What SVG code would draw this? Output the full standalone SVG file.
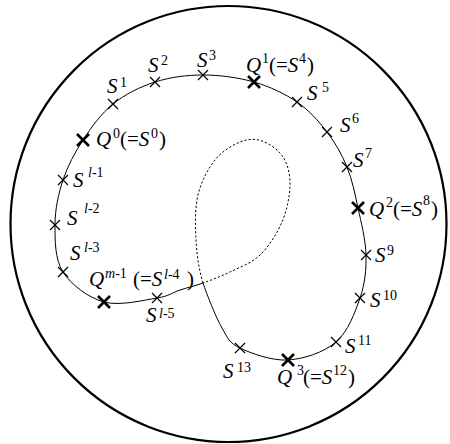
<svg xmlns="http://www.w3.org/2000/svg" xmlns:xlink="http://www.w3.org/1999/xlink" width="450" height="444" viewBox="0 0 450 444">
<style>
.bg{fill:#fff}
.outer{fill:none;stroke:#000;stroke-width:2.2}
.curve{fill:none;stroke:#000;stroke-width:1}
.dot{fill:none;stroke:#000;stroke-width:1;stroke-dasharray:2.2 2}
.x{stroke:#000;stroke-width:1.2;fill:none}
.xb{stroke:#000;stroke-width:2.6;fill:none}
text{font-family:"Liberation Serif","Times New Roman",serif;font-size:21px;fill:#000}
.m{font-style:italic}
.s{font-size:14px;font-style:normal}
.si{font-size:14px;font-style:italic}
</style>
<defs>
<path id="cx" class="x" d="M-5,-5L5,5M5,-5L-5,5"/>
<path id="cxb" class="xb" d="M-6,-6L6,6M6,-6L-6,6"/>
</defs>
<rect class="bg" width="450" height="444"/>
<circle class="outer" cx="228.5" cy="224" r="218"/>
<g id="connectors">
<path class="curve" d="M203,283 C194.7,286 187.7,287.5 180,290 C172.3,292.5 169.7,296 157,298 C144.3,300 119.7,306.3 104,302 C88.3,297.7 71.2,284.8 63,272 C54.8,259.2 55,240.3 55,225 C55,209.7 58.3,194.2 63,180 C67.7,165.8 74.7,152.7 83,140 C91.3,127.3 101,113.7 113,104 C125,94.3 140,86.8 155,82 C170,77.2 186.5,75 203,75 C219.5,75 238.3,77.5 254,82 C269.7,86.5 284.8,93.7 297,102 C309.2,110.3 318.7,121.2 327,132 C335.3,142.8 341.8,154.3 347,167 C352.2,179.7 354.8,193.3 358,208 C361.2,222.7 365.7,240 366,255 C366.3,270 365,283.5 360,298 C355,312.5 348,331.7 336,342 C324,352.3 304,359 288,360 C272,361 251,353.3 240,348 C229,342.7 228.2,338.8 222,328 C215.8,317.2 206.8,294.3 203,283"/>
<path class="dot" d="M203,283 C198.7,268.3 196.8,254.7 196,240 C195.2,225.3 194.8,208.3 198,195 C201.2,181.7 208,168.8 215,160 C222,151.2 232.2,145.2 240,142 C247.8,138.8 254.8,138.5 262,141 C269.2,143.5 278.3,149.7 283,157 C287.7,164.3 290.2,174.2 290,185 C289.8,195.8 287,210.3 282,222 C277,233.7 268.7,246.7 260,255 C251.3,263.3 239.5,267.3 230,272 C220.5,276.7 211.3,280 203,283"/>
</g>
<g id="Q0"><use xlink:href="#cxb" x="83" y="140"/><text><tspan class="m" x="96" y="146">Q</tspan><tspan class="s" x="113" y="138">0</tspan><tspan x="120" y="146">(=</tspan><tspan class="m">S</tspan><tspan class="s" x="151" y="138">0</tspan><tspan x="159" y="146">)</tspan></text></g>
<g id="S1"><use xlink:href="#cx" x="113" y="104"/><text><tspan class="m" x="107" y="93">S</tspan><tspan class="s" x="120" y="87">1</tspan></text></g>
<g id="S2"><use xlink:href="#cx" x="155" y="82"/><text><tspan class="m" x="148" y="72">S</tspan><tspan class="s" x="161" y="65">2</tspan></text></g>
<g id="S3"><use xlink:href="#cx" x="203" y="75"/><text><tspan class="m" x="197" y="67">S</tspan><tspan class="s" x="209" y="60">3</tspan></text></g>
<g id="Q1"><use xlink:href="#cxb" x="254" y="82"/><text><tspan class="m" x="246" y="72">Q</tspan><tspan class="s" x="262" y="63">1</tspan><tspan x="269" y="72">(=</tspan><tspan class="m">S</tspan><tspan class="s" x="299" y="63">4</tspan><tspan x="307" y="72">)</tspan></text></g>
<g id="S5"><use xlink:href="#cx" x="297" y="102"/><text><tspan class="m" x="307" y="100">S</tspan><tspan class="s" x="322" y="92">5</tspan></text></g>
<g id="S6"><use xlink:href="#cx" x="327" y="132"/><text><tspan class="m" x="340" y="132">S</tspan><tspan class="s" x="352" y="123">6</tspan></text></g>
<g id="S7"><use xlink:href="#cx" x="347" y="167"/><text><tspan class="m" x="353" y="167">S</tspan><tspan class="s" x="365" y="158">7</tspan></text></g>
<g id="Q2"><use xlink:href="#cxb" x="358" y="208"/><text><tspan class="m" x="369" y="216">Q</tspan><tspan class="s" x="386" y="207">2</tspan><tspan x="393" y="216">(=</tspan><tspan class="m">S</tspan><tspan class="s" x="423" y="205">8</tspan><tspan x="431" y="216">)</tspan></text></g>
<g id="S9"><use xlink:href="#cx" x="366" y="255"/><text><tspan class="m" x="375" y="262">S</tspan><tspan class="s" x="387" y="255">9</tspan></text></g>
<g id="S10"><use xlink:href="#cx" x="360" y="298"/><text><tspan class="m" x="370" y="307">S</tspan><tspan class="s" x="383" y="300">10</tspan></text></g>
<g id="S11"><use xlink:href="#cx" x="336" y="342"/><text><tspan class="m" x="345" y="353">S</tspan><tspan class="s" x="358" y="345">11</tspan></text></g>
<g id="Q3"><use xlink:href="#cxb" x="288" y="360"/><text><tspan class="m" x="277" y="384">Q</tspan><tspan class="s" x="297" y="375">3</tspan><tspan x="303" y="384">(=</tspan><tspan class="m">S</tspan><tspan class="s" x="333" y="375">12</tspan><tspan x="348" y="384">)</tspan></text></g>
<g id="S13"><use xlink:href="#cx" x="240" y="348"/><text><tspan class="m" x="223" y="378">S</tspan><tspan class="s" x="237" y="372">13</tspan></text></g>
<g id="Sl5"><use xlink:href="#cx" x="157" y="298"/><text><tspan class="m" x="146" y="322">S</tspan><tspan class="si" x="159" y="318">l</tspan><tspan class="s">-5</tspan></text></g>
<g id="Qm1"><use xlink:href="#cxb" x="104" y="302"/><text><tspan class="m" x="89" y="286">Q</tspan><tspan class="si" x="105" y="278">m</tspan><tspan class="s">-1</tspan><tspan x="133" y="286">(=</tspan><tspan class="m">S</tspan><tspan class="si" x="164" y="279">l</tspan><tspan class="s">-4</tspan><tspan x="187" y="286">)</tspan></text></g>
<g id="Sl3"><use xlink:href="#cx" x="63" y="272"/><text><tspan class="m" x="70" y="260">S</tspan><tspan class="si" x="84" y="252">l</tspan><tspan class="s">-3</tspan></text></g>
<g id="Sl2"><use xlink:href="#cx" x="55" y="225"/><text><tspan class="m" x="67" y="225">S</tspan><tspan class="si" x="84" y="213">l</tspan><tspan class="s">-2</tspan></text></g>
<g id="Sl1"><use xlink:href="#cx" x="63" y="180"/><text><tspan class="m" x="73" y="187">S</tspan><tspan class="si" x="88" y="177">l</tspan><tspan class="s">-1</tspan></text></g>
</svg>
